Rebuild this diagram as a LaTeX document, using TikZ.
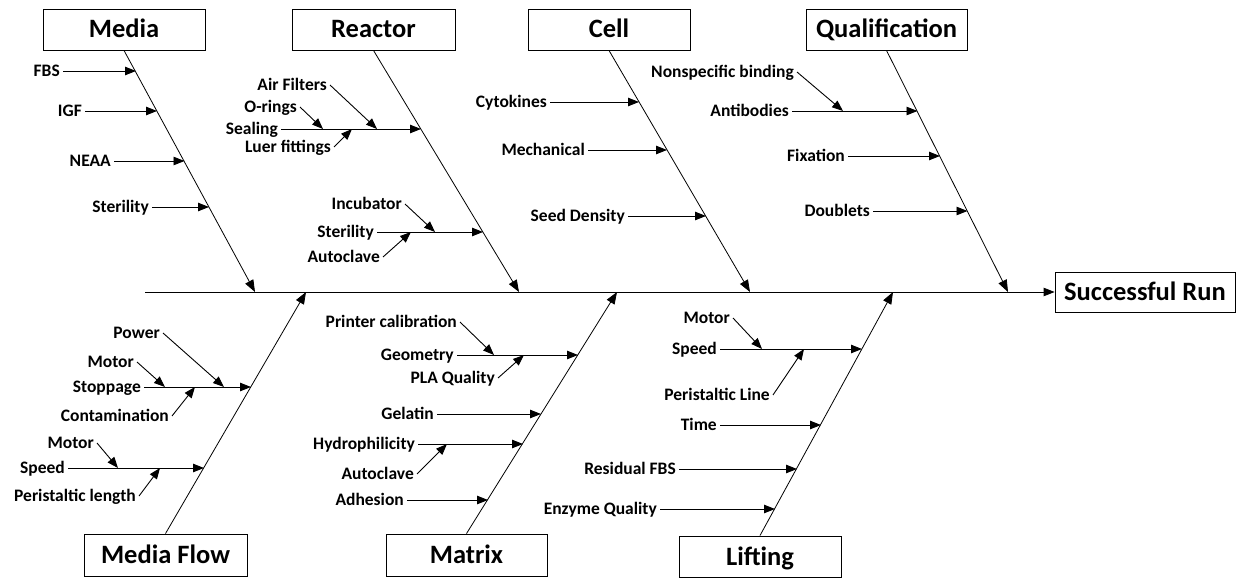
\documentclass[tikz,border=0pt]{standalone}
\usepackage{fontspec}
\setmainfont{Carlito}
\usetikzlibrary{arrows.meta}
\begin{document}
\begin{tikzpicture}[x=1pt,y=-1pt,
  catbox/.style={draw,line width=0.9pt,minimum width=#1,minimum height=41pt,inner sep=0pt,text height=17pt,text depth=0pt,font=\fontsize{26.5}{30}\selectfont\bfseries},
  cause/.style={anchor=east,inner xsep=3pt,inner ysep=0pt,text height=11pt,text depth=0pt,font=\fontsize{17.5}{20}\selectfont\bfseries},
  bone/.style={line width=0.8pt,-{Triangle[length=12pt,width=9pt]}},
  sub/.style={line width=0.9pt,-{Triangle[length=11pt,width=8.5pt]}}]
\useasboundingbox (0,0) rectangle (1251,580);

% category boxes
\node[catbox=162pt] (media) at (124,29.5) {Media};
\node[catbox=163pt] (reactor) at (373.5,29.5) {Reactor};
\node[catbox=162pt] (cell) at (609,29.5) {Cell};
\node[catbox=161pt] (qual) at (886.5,29.5) {Qualification};
\node[catbox=180pt,minimum height=40pt] (succ) at (1145,292) {Successful Run};
\node[catbox=163pt,minimum height=42pt] (mflow) at (165.5,555) {Media Flow};
\node[catbox=161pt,minimum height=42pt] (matrix) at (466.5,555) {Matrix};
\node[catbox=162pt] (lift) at (760,556.5) {Lifting};

% spine
\coordinate (sp0) at (145,292);
\draw[sub] (sp0) -- (succ.west);

% bone ends on spine
\coordinate (tm) at (255,292);
\coordinate (tr) at (519,292);
\coordinate (tc) at (750,292);
\coordinate (tq) at (1008,292);
\coordinate (bf) at (306,292);
\coordinate (bm) at (617,292);
\coordinate (bl) at (893,292);
\draw[bone] (media.south) -- (tm);
\draw[bone] (reactor.south) -- (tr);
\draw[bone] (cell.south) -- (tc);
\draw[bone] (qual.south) -- (tq);
\draw[bone] (mflow.north) -- (bf);
\draw[bone] (matrix.north) -- (bm);
\draw[bone] (lift.north) -- (bl);

% Media
\node[cause] (fbs) at (63,71) {FBS};
\node[cause] (igf) at (85,111) {IGF};
\node[cause] (neaa) at (114,161) {NEAA};
\node[cause] (ster1) at (152,207) {Sterility};
\coordinate (m1) at (136,71);
\coordinate (m2) at (157,111);
\coordinate (m3) at (184.5,161);
\coordinate (m4) at (209,207);
\draw[sub] (fbs.east) -- (m1);
\draw[sub] (igf.east) -- (m2);
\draw[sub] (neaa.east) -- (m3);
\draw[sub] (ster1.east) -- (m4);

% Reactor
\node[cause] (seal) at (281,129) {Sealing};
\node[cause] (oring) at (300,107) {O-rings};
\node[cause] (air) at (330,85) {Air Filters};
\node[cause] (luer) at (334,147) {Luer fittings};
\coordinate (r1) at (421,129);
\coordinate (r1a) at (323,129);
\coordinate (r1b) at (377,129);
\coordinate (r1c) at (352,129);
\draw[sub] (seal.east) -- (r1);
\draw[sub] (oring.east) -- (r1a);
\draw[sub] (air.east) -- (r1b);
\draw[sub] (luer.east) -- (r1c);
\node[cause] (ster2) at (377,232) {Sterility};
\node[cause] (incub) at (405,204) {Incubator};
\node[cause] (autoc1) at (383,257) {Autoclave};
\coordinate (r2) at (483,232);
\coordinate (r2a) at (435,232);
\coordinate (r2b) at (411,232);
\draw[sub] (ster2.east) -- (r2);
\draw[sub] (incub.east) -- (r2a);
\draw[sub] (autoc1.east) -- (r2b);

% Cell
\node[cause] (cyto) at (550,102) {Cytokines};
\node[cause] (mech) at (588,150) {Mechanical};
\node[cause] (seed) at (628,216) {Seed Density};
\coordinate (c1) at (639,102);
\coordinate (c2) at (667,150);
\coordinate (c3) at (706,216);
\draw[sub] (cyto.east) -- (c1);
\draw[sub] (mech.east) -- (c2);
\draw[sub] (seed.east) -- (c3);

% Qualification
\node[cause] (nonsp) at (797,72) {Nonspecific binding};
\node[cause] (anti) at (792,111) {Antibodies};
\node[cause] (fix) at (848,156) {Fixation};
\node[cause] (doub) at (873,211) {Doublets};
\coordinate (q1) at (917.5,111);
\coordinate (q1a) at (843,111);
\coordinate (q2) at (940,156);
\coordinate (q3) at (967.5,211);
\draw[sub] (anti.east) -- (q1);
\draw[sub] (nonsp.east) -- (q1a);
\draw[sub] (fix.east) -- (q2);
\draw[sub] (doub.east) -- (q3);

% Media Flow
\node[cause] (stop) at (144,387) {Stoppage};
\node[cause] (power) at (163,333) {Power};
\node[cause] (motor1) at (137,362) {Motor};
\node[cause] (contam) at (172,416) {Contamination};
\coordinate (f1) at (251,387);
\coordinate (f1a) at (224,387);
\coordinate (f1b) at (165,387);
\coordinate (f1c) at (195,387);
\draw[sub] (stop.east) -- (f1);
\draw[sub] (power.east) -- (f1a);
\draw[sub] (motor1.east) -- (f1b);
\draw[sub] (contam.east) -- (f1c);
\node[cause] (speed1) at (68,468) {Speed};
\node[cause] (motor2) at (97,443) {Motor};
\node[cause] (perl) at (139,496) {Peristaltic length};
\coordinate (f2) at (204,468);
\coordinate (f2a) at (118,468);
\coordinate (f2b) at (160,468);
\draw[sub] (speed1.east) -- (f2);
\draw[sub] (motor2.east) -- (f2a);
\draw[sub] (perl.east) -- (f2b);

% Matrix
\node[cause] (geom) at (457,355) {Geometry};
\node[cause] (printer) at (460,322) {Printer calibration};
\node[cause] (pla) at (498,378) {PLA Quality};
\coordinate (x1) at (578,355);
\coordinate (x1a) at (494,355);
\coordinate (x1b) at (524,355);
\draw[sub] (geom.east) -- (x1);
\draw[sub] (printer.east) -- (x1a);
\draw[sub] (pla.east) -- (x1b);
\node[cause] (gel) at (437,414) {Gelatin};
\node[cause] (hydro) at (418,444) {Hydrophilicity};
\node[cause] (autoc2) at (417,474) {Autoclave};
\node[cause] (adh) at (407,500) {Adhesion};
\coordinate (x2) at (541,414);
\coordinate (x3) at (523,444);
\coordinate (x3a) at (447,444);
\coordinate (x4) at (488,500);
\draw[sub] (gel.east) -- (x2);
\draw[sub] (hydro.east) -- (x3);
\draw[sub] (autoc2.east) -- (x3a);
\draw[sub] (adh.east) -- (x4);

% Lifting
\node[cause] (speed2) at (720,349) {Speed};
\node[cause] (motor3) at (733,318) {Motor};
\node[cause] (perline) at (773,395) {Peristaltic Line};
\coordinate (l1) at (862,349);
\coordinate (l1a) at (762,349);
\coordinate (l1b) at (804,349);
\draw[sub] (speed2.east) -- (l1);
\draw[sub] (motor3.east) -- (l1a);
\draw[sub] (perline.east) -- (l1b);
\node[cause] (time) at (720,425) {Time};
\node[cause] (resid) at (679,469) {Residual FBS};
\node[cause] (enz) at (660,509) {Enzyme Quality};
\coordinate (l2) at (821,425);
\coordinate (l3) at (797,469);
\coordinate (l4) at (775,509);
\draw[sub] (time.east) -- (l2);
\draw[sub] (resid.east) -- (l3);
\draw[sub] (enz.east) -- (l4);
\end{tikzpicture}
\end{document}
